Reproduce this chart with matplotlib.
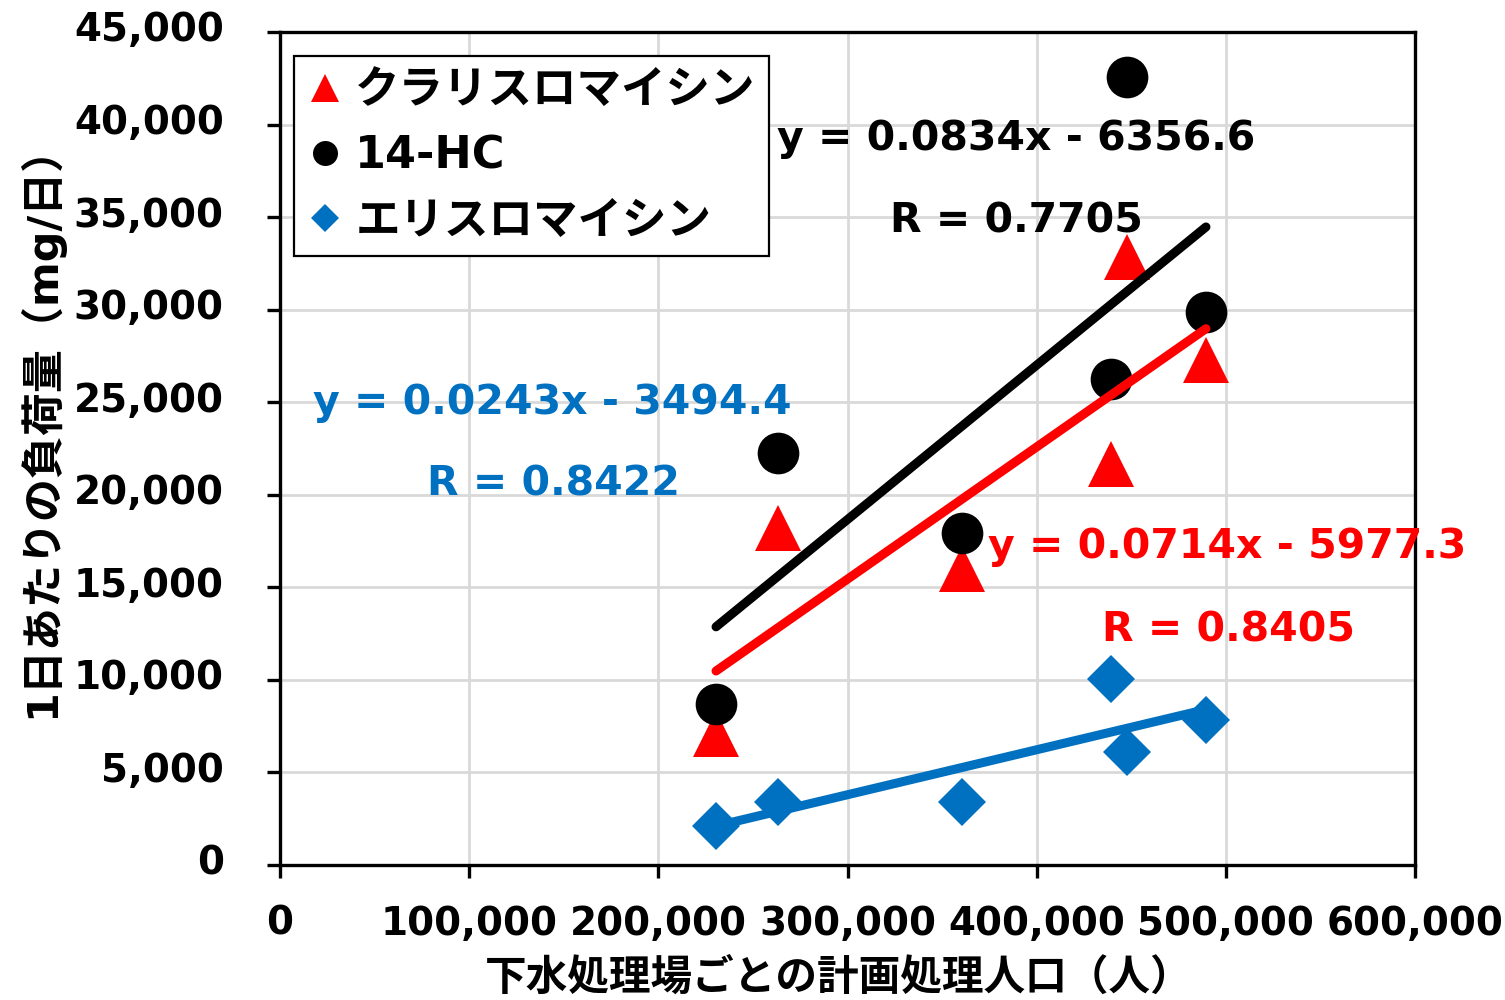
import numpy as np
import matplotlib
matplotlib.use("Agg")
import matplotlib.pyplot as plt
import matplotlib.transforms as mtransforms
from matplotlib.ticker import FuncFormatter, MultipleLocator

# 処理場ごとの計画処理人口と1日あたりの負荷量 (mg/日)
population = [230500, 263500, 360400, 439400, 447600, 489500]
clarithromycin = [7060, 18200, 16000, 21650, 32850, 27300]
hc14 = [8700, 22250, 17950, 26250, 42550, 29900]
erythromycin = [2100, 3400, 3400, 10050, 6100, 7850]

series_names = ["クラリスロマイシン", "14-HC", "エリスロマイシン"]
series_colors = ["#FF0000", "#000000", "#0070C0"]
series_markers = ["^", "o", "D"]
marker_sizes = [33, 30, 24]

# 近似直線 (Excel の線形近似の結果)
slopes = [0.0714, 0.0834, 0.0243]
intercepts = [-5977.3, -6356.6, -3494.4]
r_values = ["0.8405", "0.7705", "0.8422"]

# 数式ラベルの位置 (軸に対する割合, ベースライン)
eq_pos = [(0.6238, 0.3686), (0.4379, 0.8583), (0.0291, 0.5414)]
r_pos = [(0.7242, 0.2689), (0.5374, 0.7599), (0.1295, 0.4430)]

plt.rcParams['font.family'] = ['DejaVu Sans', 'Noto Sans CJK JP']
plt.rcParams['font.weight'] = 'bold'

fig = plt.figure(figsize=(15.05, 10), dpi=100)
ax = fig.add_axes([280 / 1505, 135 / 1000, 1135 / 1505, 833 / 1000])

values = [clarithromycin, hc14, erythromycin]
for name, ys, color, marker, ms in zip(series_names, values, series_colors,
                                       series_markers, marker_sizes):
    ax.plot(population, ys, linestyle='none', marker=marker, markersize=ms,
            color=color, markeredgewidth=0, label=name, zorder=3)

# 近似直線は点より上に描く
x_ends = np.array([min(population), max(population)])
for a, b, color in zip(slopes, intercepts, series_colors):
    ax.plot(x_ends, a * x_ends + b, color=color, linewidth=6.5,
            solid_capstyle='round', zorder=4)

for a, b, r, color, ep, rp in zip(slopes, intercepts, r_values, series_colors,
                                  eq_pos, r_pos):
    ax.text(ep[0], ep[1], f"y = {a}x - {abs(b)}", transform=ax.transAxes,
            color=color, fontsize=29.5, fontweight='bold', va='baseline',
            ha='left', zorder=5)
    ax.text(rp[0], rp[1], f"R = {r}", transform=ax.transAxes,
            color=color, fontsize=29.5, fontweight='bold', va='baseline',
            ha='left', zorder=5)

ax.set_xlim(0, 600000)
ax.set_ylim(0, 45000)
ax.xaxis.set_major_locator(MultipleLocator(100000))
ax.yaxis.set_major_locator(MultipleLocator(5000))
fmt = FuncFormatter(lambda v, _: f"{v:,.0f}")
ax.xaxis.set_major_formatter(fmt)
ax.yaxis.set_major_formatter(fmt)

ax.grid(True, color='#d9d9d9', linewidth=2, zorder=0)
ax.set_axisbelow(True)
for sp in ax.spines.values():
    sp.set_linewidth(2.4)
    sp.set_color('black')

ax.tick_params(axis='both', direction='out', length=9.5, width=2.4,
               labelsize=28)
ax.tick_params(axis='y', pad=31)
ax.tick_params(axis='x', pad=19)

# 縦軸の目盛ラベルを少し上へずらす
shift_up = mtransforms.ScaledTranslation(0, 4 / 72, fig.dpi_scale_trans)
for lbl in ax.get_yticklabels():
    lbl.set_transform(lbl.get_transform() + shift_up)
for lbl in ax.get_xticklabels() + ax.get_yticklabels():
    lbl.set_fontweight('bold')

fig.text(839 / 1505, 1 - 978 / 1000, "下水処理場ごとの計画処理人口（人）",
         ha='center', va='center', fontsize=30, fontweight='bold')
fig.text(40 / 1505, 1 - 421 / 1000, "1日あたりの負荷量（mg/日）",
         ha='center', va='center', rotation=90, fontsize=31,
         fontweight='bold')

leg = ax.legend(loc='upper left', bbox_to_anchor=(0.0123, 0.9712),
                borderaxespad=0, fontsize=32, markerscale=0.6,
                handlelength=0.8, handletextpad=0.28, borderpad=0.3,
                labelspacing=0.5, fancybox=False, framealpha=1,
                edgecolor='black')
leg.get_frame().set_linewidth(1.6)
leg.set_zorder(6)

fig.savefig("out.png", dpi=100)
